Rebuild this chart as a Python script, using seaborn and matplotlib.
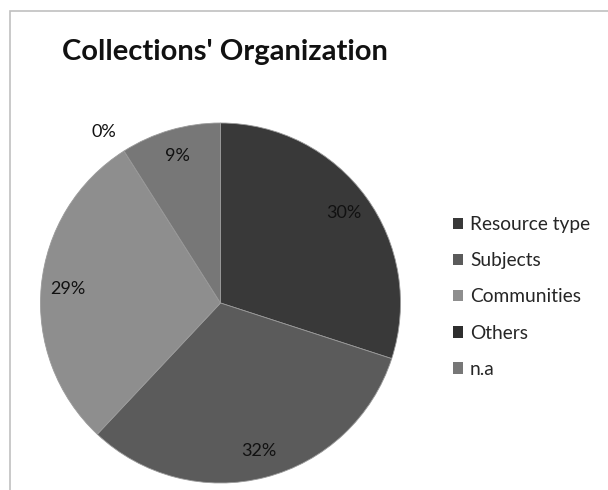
import numpy as np
import matplotlib
matplotlib.use("Agg")
import matplotlib.pyplot as plt
import seaborn as sns
from matplotlib.patches import Rectangle

sns.set_theme(style="white")
plt.rcParams['font.family'] = ['Lato', 'DejaVu Sans']

categories = ["Resource type", "Subjects", "Communities", "Others", "n.a"]
shares = [30, 32, 29, 0, 9]
slice_colors = ["#393939", "#5b5b5b", "#8e8e8e", "#2e2e2e", "#777777"]
title_text = "Collections' Organization"

W, H = 608, 490
fig = plt.figure(figsize=(W / 100, H / 100), dpi=100)
fig.patch.set_facecolor("white")

# chart-area frame (left and top edges visible)
fig.patches.append(Rectangle((10 / W, -0.1), 1.2, 1 - 11 / H + 0.1,
                             transform=fig.transFigure, fill=False,
                             edgecolor="#c0c0c0", linewidth=1.2))

cx, cy, r = 220.5, 303, 180
ax = fig.add_axes([(cx - r) / W, (H - cy - r) / H, 2 * r / W, 2 * r / H])

wedges, texts, autotexts = ax.pie(
    shares, colors=slice_colors, startangle=90, counterclock=False,
    autopct="%1.0f%%", pctdistance=0.85, radius=1.0,
    wedgeprops=dict(edgecolor="#9a9a9a", linewidth=0.6),
    textprops=dict(fontsize=13, color="#111111"))
ax.set_xlim(-1, 1)
ax.set_ylim(-1, 1)
ax.set_aspect("equal")
ax.axis("off")

# zero-size slice: put its label just outside the rim, a little past its boundary
cum = np.cumsum([0] + shares[:-1])
for t, v, c0 in zip(autotexts, shares, cum):
    if v == 0:
        ang = np.deg2rad(90 - 360 * c0 / sum(shares) + 2)
        t.set_position((1.15 * np.cos(ang), 1.15 * np.sin(ang)))

fig.text(62 / W, 1 - 52 / H, title_text, fontsize=21, fontweight="bold",
         color="#111111", va="center", ha="left")

handles = [Rectangle((0, 0), 1, 1, facecolor=c, edgecolor="none") for c in slice_colors]
fig.legend(handles, categories, loc="center left",
           bbox_to_anchor=(445 / W, 1 - 297 / H), frameon=False,
           fontsize=13.8, handlelength=0.55, handleheight=0.55,
           handletextpad=0.35, labelspacing=1.0, borderaxespad=0)

fig.savefig("out.png", dpi=100, facecolor="white")
